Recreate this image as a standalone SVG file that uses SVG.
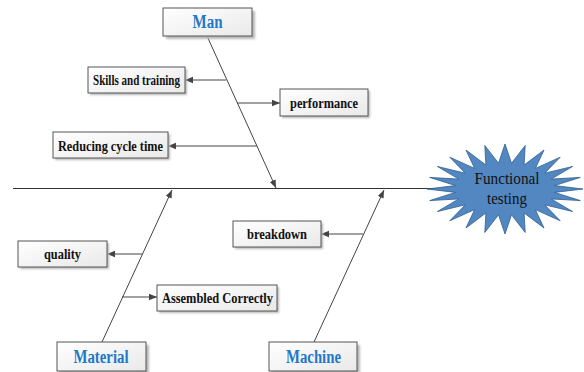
<svg xmlns="http://www.w3.org/2000/svg" width="584" height="372" viewBox="0 0 584 372">
  <style>
    .box { fill: url(#boxfill); stroke: #555; stroke-width: 1; }
    .shadow { fill: #b8b8b8; filter: url(#soft); }
    .label { font-family: "Liberation Serif", "Times New Roman", serif; font-weight: bold; font-size: 14px; fill: #111; text-anchor: middle; }
    .title { font-family: "Liberation Serif", "Times New Roman", serif; font-weight: bold; font-size: 18px; fill: #1f78c8; text-anchor: middle; }
    .star-text { font-family: "Liberation Serif", "Times New Roman", serif; font-size: 17px; fill: #111; text-anchor: middle; }
    .line { stroke: #333; stroke-width: 1; fill: none; }
    .arrow { stroke: #444; stroke-width: 1; fill: none; marker-end: url(#head); }
  </style>
  <defs>
    <linearGradient id="boxfill" x1="0" y1="0" x2="1" y2="1">
      <stop offset="0" stop-color="#ffffff"/>
      <stop offset="1" stop-color="#e9e9e9"/>
    </linearGradient>
    <filter id="soft" x="-10%" y="-20%" width="120%" height="140%">
      <feGaussianBlur stdDeviation="0.8"/>
    </filter>
    <marker id="head" viewBox="0 0 10 10" refX="10" refY="5" markerWidth="8" markerHeight="8" markerUnits="userSpaceOnUse" orient="auto">
      <path d="M0,1 L10,5 L0,9 Z" fill="#444"/>
    </marker>
  </defs>

  <!-- spine and bones -->
  <g id="connectors">
    <line class="line" x1="13" y1="188.5" x2="440" y2="188.5"/>
    <line class="arrow" x1="207" y1="36" x2="276" y2="188"/>
    <line class="arrow" x1="102" y1="342" x2="172" y2="190"/>
    <line class="arrow" x1="314" y1="342" x2="384" y2="190"/>
    <line class="arrow" x1="226" y1="80" x2="185" y2="80"/>
    <line class="arrow" x1="237" y1="103" x2="280" y2="103"/>
    <line class="arrow" x1="257" y1="146" x2="168" y2="146"/>
    <line class="arrow" x1="142" y1="254" x2="107" y2="254"/>
    <line class="arrow" x1="122" y1="297" x2="157" y2="297"/>
    <line class="arrow" x1="363" y1="234" x2="321" y2="234"/>
  </g>

  <g id="effect">
    <polygon fill="#5287c2" stroke="#2f5f8f" stroke-width="0.8"
      points="583,189 554.6,192.4 580.3,200.6 551.2,198.9 572.5,211.5 544.7,204.8 560.2,220.8 535.4,209.6 544,228 524.1,213 525.2,232.5 511.5,214.8 505,234 498.5,214.8 484.8,232.5 485.9,213 466,228 474.6,209.6 449.8,220.8 465.3,204.8 437.5,211.5 458.8,198.9 429.7,200.6 455.4,192.4 427,189 455.4,185.6 429.7,177.4 458.8,179.1 437.5,166.5 465.3,173.2 449.8,157.2 474.6,168.4 466,150 485.9,165 484.8,145.5 498.5,163.2 505,144 511.5,163.2 525.2,145.5 524.1,165 544,150 535.4,168.4 560.2,157.2 544.7,173.2 572.5,166.5 551.2,179.1 580.3,177.4 554.6,185.6"/>
    <text class="star-text" x="507" y="184" textLength="65" lengthAdjust="spacingAndGlyphs">Functional</text>
    <text class="star-text" x="507" y="204" textLength="40" lengthAdjust="spacingAndGlyphs">testing</text>
  </g>

  <g id="man">
    <rect class="shadow" x="166" y="11" width="89" height="28"/>
    <rect class="box" x="163" y="8" width="89" height="28"/>
    <text class="title" x="207.5" y="28" textLength="30" lengthAdjust="spacingAndGlyphs">Man</text>
  </g>
  <g id="material">
    <rect class="shadow" x="60" y="345" width="89" height="29"/>
    <rect class="box" x="57" y="342" width="89" height="29"/>
    <text class="title" x="101" y="363" textLength="55" lengthAdjust="spacingAndGlyphs">Material</text>
  </g>
  <g id="machine">
    <rect class="shadow" x="272" y="345" width="88" height="29"/>
    <rect class="box" x="269" y="342" width="88" height="29"/>
    <text class="title" x="313.5" y="363" textLength="55" lengthAdjust="spacingAndGlyphs">Machine</text>
  </g>

  <g id="skills">
    <rect class="shadow" x="90" y="69" width="97" height="26"/>
    <rect class="box" x="88" y="67" width="97" height="26"/>
    <text class="label" x="136.5" y="85" textLength="87" lengthAdjust="spacingAndGlyphs">Skills and training</text>
  </g>
  <g id="performance">
    <rect class="shadow" x="282" y="91" width="88" height="27"/>
    <rect class="box" x="280" y="89" width="88" height="27"/>
    <text class="label" x="324" y="107.5" textLength="68" lengthAdjust="spacingAndGlyphs">performance</text>
  </g>
  <g id="cycle-time">
    <rect class="shadow" x="55" y="134" width="115" height="26"/>
    <rect class="box" x="53" y="132" width="115" height="26"/>
    <text class="label" x="110.5" y="151" textLength="105" lengthAdjust="spacingAndGlyphs">Reducing cycle time</text>
  </g>
  <g id="quality">
    <rect class="shadow" x="20" y="243" width="89" height="26"/>
    <rect class="box" x="18" y="241" width="89" height="26"/>
    <text class="label" x="62.5" y="258.5" textLength="37" lengthAdjust="spacingAndGlyphs">quality</text>
  </g>
  <g id="assembled">
    <rect class="shadow" x="159" y="287" width="120" height="26"/>
    <rect class="box" x="157" y="285" width="120" height="26"/>
    <text class="label" x="217.5" y="303" textLength="111" lengthAdjust="spacingAndGlyphs">Assembled Correctly</text>
  </g>
  <g id="breakdown">
    <rect class="shadow" x="235" y="223" width="88" height="26"/>
    <rect class="box" x="233" y="221" width="88" height="26"/>
    <text class="label" x="277" y="239" textLength="60" lengthAdjust="spacingAndGlyphs">breakdown</text>
  </g>
</svg>
